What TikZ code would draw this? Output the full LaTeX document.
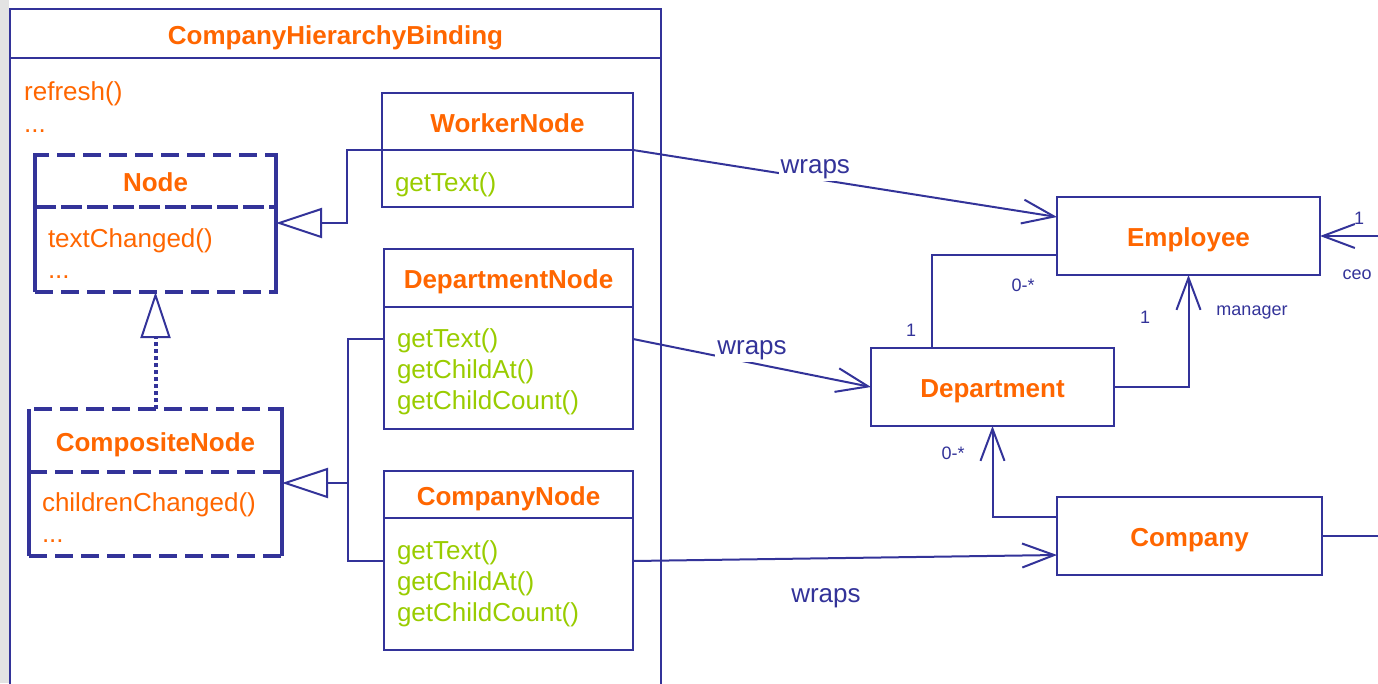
\documentclass[tikz,border=0pt]{standalone}
\usepackage{fontspec}
\setmainfont{Liberation Sans}
\usetikzlibrary{positioning,calc,arrows.meta}
\definecolor{umlblue}{HTML}{333399}
\definecolor{umlorange}{HTML}{FF6600}
\definecolor{umlgreen}{HTML}{99CC00}
\begin{document}
\begin{tikzpicture}[x=1pt, y=-1pt,
  class head/.style={draw=umlblue, line width=2pt, rectangle, inner sep=0pt, outer sep=0pt, text height=21pt, text depth=0pt, text=umlorange, font=\fontsize{26}{30}\selectfont\bfseries},
  class body/.style={draw=umlblue, line width=2pt, rectangle, inner xsep=13pt, inner ysep=0pt, outer sep=0pt, align=left, text=umlgreen, font=\fontsize{26}{31}\selectfont},
  text drop/.style={execute at begin node={\rule{0pt}{#1}}},
  abstract head/.style={class head, line width=4pt, dash pattern=on 18pt off 8pt},
  abstract body/.style={class body, line width=4pt, dash pattern=on 18pt off 8pt, text=umlorange},
  abstract side/.style={draw=umlblue, line width=4pt},
  method text/.style={text=umlorange, inner sep=0pt, font=\fontsize{26}{31}\selectfont},
  wraps label/.style={text=umlblue, inner sep=2pt, font=\fontsize{26}{30}\selectfont},
  mult label/.style={text=umlblue, inner sep=1pt, font=\fontsize{18}{20}\selectfont},
  plain edge/.style={draw=umlblue, line width=2pt},
  wraps edge/.style={plain edge, -{Straight Barb[length=32pt, width=24pt]}},
  inherit edge/.style={plain edge, -{Triangle[open, length=46pt, width=30pt]}},
  realize edge/.style={draw=umlblue, line width=4pt, dash pattern=on 4pt off 3pt, -{Triangle[open, length=46pt, width=30pt, line width=2pt]}}
]
\useasboundingbox (0,0) rectangle (1378,683);
\clip (0,0) rectangle (1378,683);
\fill[gray!22] (0,0) rectangle (9,683);
% Define the nodes
\node[class head, minimum width=651pt, minimum height=49pt] (bindinghead) at (335.5,33.5) {CompanyHierarchyBinding};
\node[class body, minimum width=651pt, minimum height=660pt, below=0pt of bindinghead] (bindingbody) {};
\node[method text, anchor=base west] (refresh) at (24,100) {refresh()};
\node[method text, anchor=base west] (refreshmore) at (24,132) {...};

\node[abstract head, minimum width=241pt, minimum height=52pt] (nodehead) at (155.5,181) {Node};
\node[abstract body, text drop=27pt, text width=215pt, minimum height=85pt, below=0pt of nodehead] (nodebody) {textChanged()\\...};
\node[abstract head, minimum width=253pt, minimum height=63pt] (compositehead) at (155.5,440.5) {CompositeNode};
\node[abstract body, text drop=25pt, text width=227pt, minimum height=84pt, below=0pt of compositehead] (compositebody) {childrenChanged()\\...};
\draw[abstract side] (nodehead.north west) -- (nodebody.south west);
\draw[abstract side] (nodehead.north east) -- (nodebody.south east);
\draw[abstract side] (compositehead.north west) -- (compositebody.south west);
\draw[abstract side] (compositehead.north east) -- (compositebody.south east);

\node[class head, minimum width=251pt, minimum height=57pt] (workerhead) at (507.5,121.5) {WorkerNode};
\node[class body, text drop=31pt, text width=225pt, minimum height=57pt, below=0pt of workerhead] (workerbody) {getText()};
\node[class head, minimum width=249pt, minimum height=58pt] (deptnodehead) at (508.5,278) {DepartmentNode};
\node[class body, text drop=27pt, text width=223pt, minimum height=122pt, below=0pt of deptnodehead] (deptnodebody) {getText()\\getChildAt()\\getChildCount()};
\node[class head, minimum width=249pt, minimum height=47pt] (companynodehead) at (508.5,494.5) {CompanyNode};
\node[class body, text width=223pt, minimum height=132pt, below=0pt of companynodehead] (companynodebody) {getText()\\getChildAt()\\getChildCount()};

\node[class head, minimum width=263pt, minimum height=78pt] (employee) at (1188.5,236) {Employee};
\node[class head, minimum width=243pt, minimum height=78pt] (department) at (992.5,387) {Department};
\node[class head, minimum width=265pt, minimum height=78pt] (company) at (1189.5,536) {Company};

% Define the edges
\coordinate (deptnodejoin) at ($(deptnodebody.north west)+(0,32)$);
\coordinate (companynodejoin) at ($(companynodebody.north west)+(0,43)$);
\coordinate (fork) at (348,483);
\coordinate (ceoend) at (1400,236);
\draw[inherit edge] (workerhead.south west) -- ++(-35,0) |- ($(nodebody.north east)+(0,16)$);
\draw[plain edge] (deptnodejoin) -- ++(-36,0) |- (companynodejoin);
\draw[inherit edge] (fork) -- ($(compositebody.north east)+(0,11)$);
\draw[realize edge] (compositehead.north) -- (nodebody.south);

\draw[wraps edge] (workerhead.south east) -- node[wraps label, fill=white, pos=0.43, yshift=10pt] (wrapsworker) {wraps} ($(employee.north west)+(0,20)$);
\draw[wraps edge] ($(deptnodebody.north east)+(0,32)$) -- node[wraps label, fill=white, pos=0.5, yshift=13pt] (wrapsdept) {wraps} (department.west);
\draw[wraps edge] ($(companynodebody.north east)+(0,43)$) -- node[wraps label, pos=0.455, yshift=-40pt] (wrapscompany) {wraps} ($(company.west)+(0,19)$);

\draw[wraps edge] (department.east) -| (employee.south);
\draw[plain edge] ($(department.north west)+(61,0)$) |- ($(employee.north west)+(0,58)$);
\draw[wraps edge] ($(company.north west)+(0,20)$) -| (department.south);
\draw[plain edge] (company.east) -- ++(70,0);
\draw[wraps edge] (ceoend) -- (employee.east);

\node[mult label] (ceoone) at (1359,218) {1};
\node[mult label] (ceorole) at (1357,275) {ceo};
\node[mult label] (managerone) at (1145,317) {1};
\node[mult label] (managerrole) at (1252,313) {manager};
\node[mult label] (staffmany) at (1023,285) {0-*};
\node[mult label] (staffone) at (911,330) {1};
\node[mult label] (deptmany) at (953,453) {0-*};
\end{tikzpicture}
\end{document}
